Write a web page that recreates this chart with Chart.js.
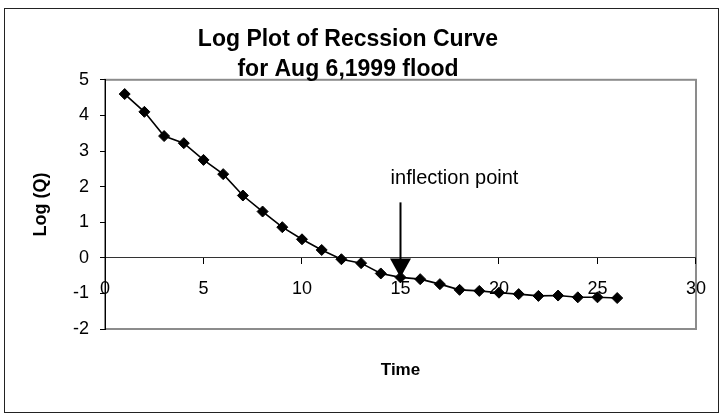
<!DOCTYPE html>
<html>
<head>
<meta charset="utf-8">
<script src="https://cdn.jsdelivr.net/npm/chart.js@4/dist/chart.umd.min.js"></script>
<style>
  html, body { margin: 0; padding: 0; background: #fff; }
  #wrap { width: 720px; height: 414px; position: relative; }
</style>
</head>
<body>
<div id="wrap"><canvas id="chart"></canvas></div>
<script>
// recession data, one reading per time step
const times = [1, 2, 3, 4, 5, 6, 7, 8, 9, 10, 11, 12, 13, 14, 15, 16, 17, 18, 19, 20, 21, 22, 23, 24, 25, 26];
const logQ = [4.60, 4.10, 3.42, 3.22, 2.75, 2.35, 1.75, 1.30, 0.86, 0.52, 0.22, -0.04, -0.15,
  -0.44, -0.55, -0.60, -0.74, -0.90, -0.93, -0.98, -1.02, -1.07, -1.06, -1.11, -1.11, -1.13];

const xRange = [0, 30];
const yRange = [-2, 5];
const titleLines = ["Log Plot of Recssion Curve", "for Aug 6,1999 flood"];
const inflectionTime = 15;
const inflectionLabel = "inflection point";

const FONT = "'Liberation Sans', Arial, Helvetica, sans-serif";

// frame around the whole chart + grey plot area box
const frames = {
  id: "frames",
  beforeDraw(chart) {
    const ctx = chart.ctx;
    const a = chart.chartArea;
    ctx.save();
    ctx.strokeStyle = "#222";
    ctx.lineWidth = 1;
    ctx.strokeRect(4.5, 8.5, 714, 404);
    ctx.strokeStyle = "#8c8c8c";
    ctx.lineWidth = 2;
    ctx.strokeRect(a.left, a.top, a.right - a.left, a.bottom - a.top);
    ctx.restore();
  }
};

// arrow pointing at the inflection point, with its label
const inflectionArrow = {
  id: "inflectionArrow",
  afterDraw(chart) {
    const ctx = chart.ctx;
    const i = times.indexOf(inflectionTime);
    const px = chart.scales.x.getPixelForValue(times[i]);
    const py = chart.scales.y.getPixelForValue(logQ[i]);
    ctx.save();
    ctx.strokeStyle = "#000";
    ctx.fillStyle = "#000";
    ctx.lineWidth = 2;
    ctx.beginPath();
    ctx.moveTo(px, py - 75);
    ctx.lineTo(px, py - 18);
    ctx.stroke();
    ctx.beginPath();
    ctx.moveTo(px - 10.5, py - 19);
    ctx.lineTo(px + 10.5, py - 19);
    ctx.lineTo(px, py);
    ctx.closePath();
    ctx.fill();
    ctx.font = "20px " + FONT;
    ctx.textAlign = "center";
    ctx.textBaseline = "middle";
    ctx.fillText(inflectionLabel, px + 54, py - 99);
    ctx.restore();
  }
};

new Chart(document.getElementById("chart"), {
  type: "line",
  data: {
    datasets: [{
      data: times.map((t, i) => ({ x: t, y: logQ[i] })),
      borderColor: "#000",
      borderWidth: 1.6,
      backgroundColor: "#000",
      pointStyle: "rectRot",
      pointRadius: 5.5,
      pointHoverRadius: 5.5,
      pointBorderWidth: 1,
      tension: 0
    }]
  },
  options: {
    responsive: true,
    maintainAspectRatio: false,
    animation: false,
    layout: { padding: { left: 0, right: 24, top: 0, bottom: 0 } },
    plugins: {
      legend: { display: false },
      tooltip: { enabled: false },
      title: {
        display: true,
        text: titleLines,
        color: "#000",
        font: { family: FONT, size: 23, weight: "bold", lineHeight: 1.3 },
        padding: { top: 25, bottom: -5 }
      }
    },
    scales: {
      x: {
        type: "linear",
        position: { y: 0 },
        min: xRange[0],
        max: xRange[1],
        afterFit(scale) { scale.height = 0; },
        border: { display: true, color: "#333", width: 1 },
        grid: { drawOnChartArea: false, drawTicks: true, tickLength: 6, color: "#000" },
        ticks: { stepSize: 5, color: "#000", padding: 14, maxRotation: 0, font: { family: FONT, size: 18 } }
      },
      xb: {
        type: "linear",
        position: "bottom",
        min: xRange[0],
        max: xRange[1],
        afterFit(scale) { scale.height = 85; },
        border: { display: false },
        grid: { display: false },
        ticks: { display: false },
        title: {
          display: true,
          text: "Time",
          color: "#000",
          font: { family: FONT, size: 17, weight: "bold" },
          padding: { top: 0, bottom: 33 }
        }
      },
      y: {
        min: yRange[0],
        max: yRange[1],
        afterFit(scale) { scale.width = 105; },
        border: { display: true, color: "#000", width: 1 },
        grid: { drawOnChartArea: false, drawTicks: true, tickLength: 5, color: "#000" },
        ticks: { stepSize: 1, color: "#000", padding: 11, font: { family: FONT, size: 18 } },
        title: {
          display: true,
          text: "Log (Q)",
          color: "#000",
          font: { family: FONT, size: 18, weight: "bold" },
          padding: { top: 30, bottom: 0 }
        }
      }
    }
  },
  plugins: [frames, inflectionArrow]
});
</script>
</body>
</html>
